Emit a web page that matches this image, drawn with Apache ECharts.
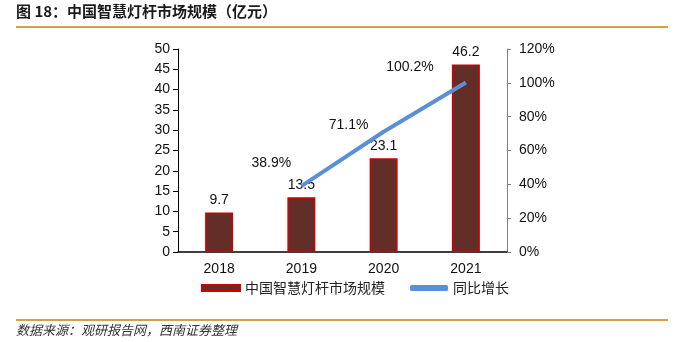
<!DOCTYPE html>
<html><head><meta charset="utf-8">
<script src="https://cdn.jsdelivr.net/npm/echarts@6/dist/echarts.min.js"></script>
<style>html,body{margin:0;padding:0;background:#fff}#c{width:680px;height:342px}</style>
</head><body><div id="c"></div>
<script>
const categories = ['2018', '2019', '2020', '2021'];
const marketSize = [9.7, 13.5, 23.1, 46.2];
const growthRate = [null, 38.9, 71.1, 100.2];
const leftTicks = [0, 50, 5];
const rightTicks = [0, 120, 20];

// label placement (style, not data)
const growthLabelOffsets = [[0, 0], [-30, -11], [-35, 5], [-56, -3]];

const chart = echarts.init(document.getElementById('c'));
const font = '"Liberation Sans", Arial, sans-serif';
const cjk = '"Noto Sans CJK SC", sans-serif';
chart.setOption({
  animation: false,
  graphic: [
    {type: 'text', left: 16, top: 4, style: {text: '图 18：中国智慧灯杆市场规模（亿元）', font: 'bold 15px ' + cjk, fill: '#1a1a1a'}},
    {type: 'rect', shape: {x: 16, y: 26, width: 652, height: 2}, style: {fill: '#D4A04A'}},
    {type: 'rect', shape: {x: 16, y: 319, width: 652, height: 2}, style: {fill: '#D4A04A'}},
    {type: 'text', left: 16, top: 324, style: {text: '数据来源：观研报告网，西南证券整理', font: 'italic 13px ' + cjk, fill: '#333'}}
  ],
  grid: {left: 178, right: 173, top: 49, bottom: 90},
  legend: {
    bottom: 42, left: 196, itemGap: 25, itemWidth: 38, itemHeight: 6,
    textStyle: {fontFamily: cjk, fontSize: 14, color: '#222'},
    data: [
      {name: '中国智慧灯杆市场规模', icon: 'rect'},
      {name: '同比增长', icon: 'roundRect', itemStyle: {color: '#5B8FD6'}}
    ]
  },
  xAxis: {
    type: 'category', data: categories,
    axisLine: {lineStyle: {color: '#000', width: 1.5}},
    axisTick: {show: false},
    axisLabel: {fontFamily: font, fontSize: 14, color: '#111', margin: 10}
  },
  yAxis: [
    {type: 'value', min: leftTicks[0], max: leftTicks[1], interval: leftTicks[2],
     splitLine: {show: false},
     axisLine: {show: true, lineStyle: {color: '#000'}},
     axisTick: {show: true, length: 5, lineStyle: {color: '#000'}},
     axisLabel: {fontFamily: font, fontSize: 14, color: '#111', margin: 8}},
    {type: 'value', min: rightTicks[0], max: rightTicks[1], interval: rightTicks[2],
     splitLine: {show: false},
     axisLine: {show: true, lineStyle: {color: '#808080'}},
     axisTick: {show: true, length: 4, lineStyle: {color: '#808080'}},
     axisLabel: {fontFamily: font, fontSize: 14, color: '#111', margin: 12, formatter: '{value}%'}}
  ],
  series: [
    {name: '中国智慧灯杆市场规模', type: 'bar', data: marketSize, barWidth: 28,
     itemStyle: {color: '#632E27', borderColor: '#D00000', borderWidth: 1.5},
     label: {show: true, position: 'top', distance: 5, fontFamily: font, fontSize: 14, color: '#111'}},
    {name: '同比增长', type: 'line', yAxisIndex: 1,
     data: growthRate.map((v, i) => ({value: v, label: {offset: growthLabelOffsets[i]}})),
     showSymbol: true, symbol: 'circle', symbolSize: 0,
     lineStyle: {color: '#5B8FD6', width: 4},
     itemStyle: {color: '#5B8FD6'},
     label: {show: true, position: 'top', fontFamily: font, fontSize: 14, color: '#111',
       formatter: p => p.value == null ? '' : p.value.toFixed(1) + '%'}}
  ]
});
</script></body></html>
